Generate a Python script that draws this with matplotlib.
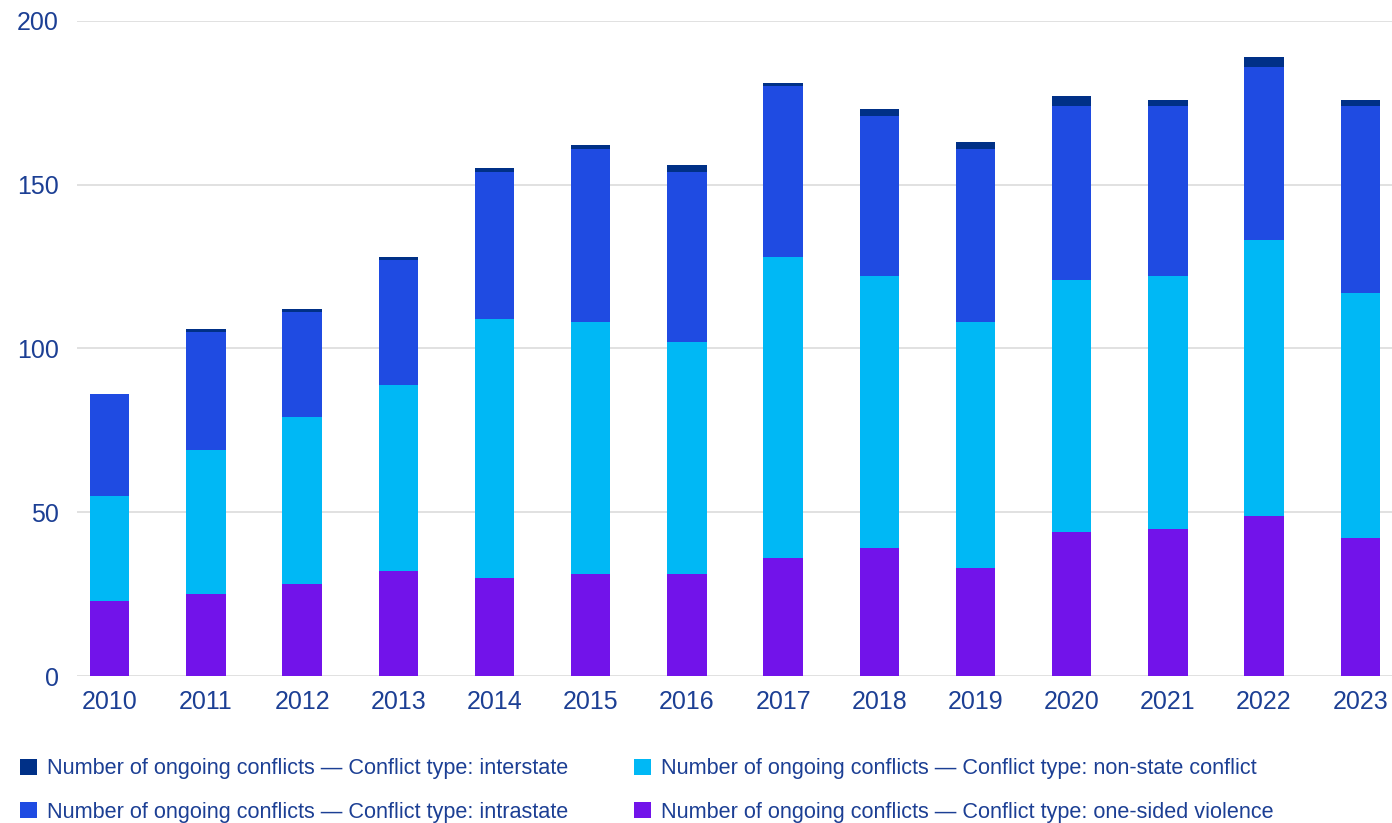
import matplotlib.pyplot as plt
import numpy as np

plt.rcParams['font.family'] = ['Liberation Sans', 'DejaVu Sans']

years = ['2010', '2011', '2012', '2013', '2014', '2015', '2016',
         '2017', '2018', '2019', '2020', '2021', '2022', '2023']
one_sided = [23, 25, 28, 32, 30, 31, 31, 36, 39, 33, 44, 45, 49, 42]
non_state = [32, 44, 51, 57, 79, 77, 71, 92, 83, 75, 77, 77, 84, 75]
intrastate = [31, 36, 32, 38, 45, 53, 52, 52, 49, 53, 53, 52, 53, 57]
interstate = [0, 1, 1, 1, 1, 1, 2, 1, 2, 2, 3, 2, 3, 2]

labels = ['Number of ongoing conflicts \u2014 Conflict type: interstate',
          'Number of ongoing conflicts \u2014 Conflict type: intrastate',
          'Number of ongoing conflicts \u2014 Conflict type: non-state conflict',
          'Number of ongoing conflicts \u2014 Conflict type: one-sided violence']

text_color = '#1c3f94'
c_inter = '#003087'
c_intra = '#1f4be2'
c_non = '#00b8f5'
c_one = '#7213ea'

fig = plt.figure(figsize=(13.92, 8.23), dpi=100)
ax = fig.add_axes([0.0553, 0.1786, 0.9447, 0.7959])

x = np.arange(len(years))
w = 0.41
b1 = np.array(one_sided)
b2 = b1 + np.array(non_state)
b3 = b2 + np.array(intrastate)

h_one = ax.bar(x, one_sided, w, color=c_one, zorder=3)
h_non = ax.bar(x, non_state, w, bottom=b1, color=c_non, zorder=3)
h_intra = ax.bar(x, intrastate, w, bottom=b2, color=c_intra, zorder=3)
h_inter = ax.bar(x, interstate, w, bottom=b3, color=c_inter, zorder=3)

ax.set_xlim(-0.34, 13.33)
ax.set_ylim(0, 200)
ax.set_yticks([0, 50, 100, 150, 200])
ax.set_xticks(x)
ax.set_xticklabels(years)
ax.tick_params(axis='both', length=0, labelsize=18, colors=text_color)
ax.tick_params(axis='y', pad=13)
ax.tick_params(axis='x', pad=10)
ax.grid(axis='y', color='#dcdcdc', linewidth=1.2, zorder=0)
for s in ax.spines.values():
    s.set_visible(False)

fig.legend([h_inter, h_intra, h_non, h_one], labels, ncol=2, frameon=False,
           loc='upper left', bbox_to_anchor=(0.0144, 0.0785),
           fontsize=15.6, labelcolor=text_color, handlelength=0.78, handleheight=0.78,
           handletextpad=0.46, columnspacing=3.05, labelspacing=1.03,
           borderaxespad=0, borderpad=0)

fig.savefig('out.png', dpi=100)
